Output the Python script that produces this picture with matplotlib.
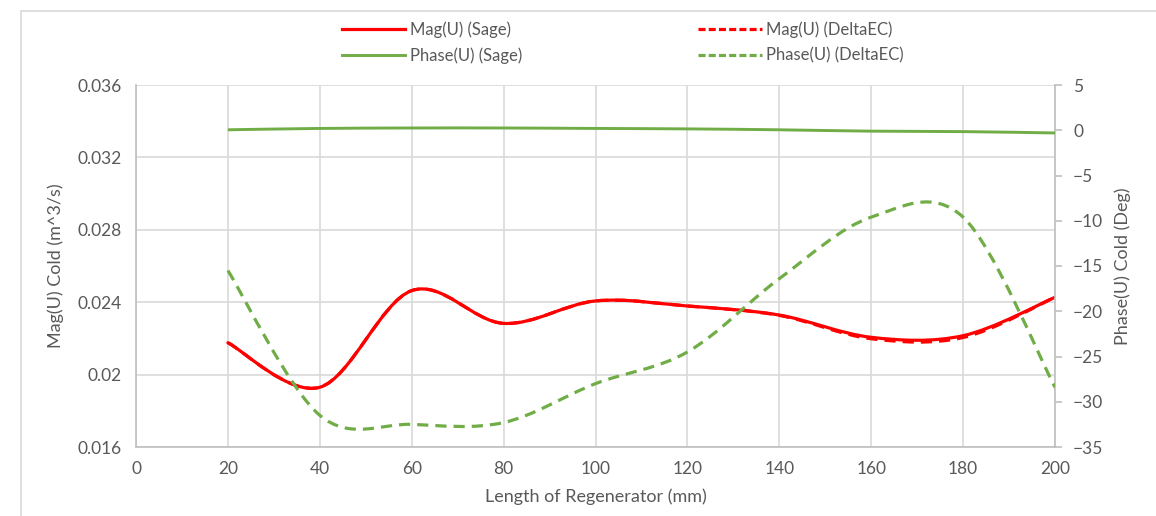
import numpy as np
import matplotlib
matplotlib.use("Agg")
import matplotlib.pyplot as plt
from matplotlib.path import Path
from matplotlib.patches import PathPatch, Rectangle
from matplotlib.lines import Line2D

plt.rcParams['font.family'] = ['Lato', 'DejaVu Sans']

# regenerator length (mm)
length_mm = [20, 40, 60, 80, 100, 120, 140, 160, 180, 200]
# volumetric velocity magnitude, cold end (m^3/s)
mag_sage = [0.02176, 0.01930, 0.02464, 0.02283, 0.02407, 0.02379, 0.02329, 0.02206, 0.02215, 0.02427]
mag_deltaec = [0.02176, 0.01930, 0.02464, 0.02283, 0.02407, 0.02379, 0.02327, 0.02198, 0.02205, 0.02427]
# phase, cold end (deg)
phase_sage = [0.05, 0.2, 0.25, 0.25, 0.2, 0.15, 0.05, -0.1, -0.15, -0.3]
phase_deltaec = [-15.5, -31.5, -32.5, -32.3, -28.0, -24.5, -16.4, -9.6, -9.6, -28.4]

RED = '#FF0000'
GREEN = '#70AD47'
GREY_TXT = '#595959'


def smooth_path(x, y):
    # Catmull-Rom style cubic Bezier through the points (spreadsheet "smoothed line")
    p = np.column_stack([x, y]).astype(float)
    pts = np.vstack([p[0], p, p[-1]])
    verts = [p[0]]
    codes = [Path.MOVETO]
    for i in range(1, len(pts) - 2):
        c1 = pts[i] + (pts[i + 1] - pts[i - 1]) / 6.0
        c2 = pts[i + 1] - (pts[i + 2] - pts[i]) / 6.0
        verts += [c1, c2, pts[i + 1]]
        codes += [Path.CURVE4] * 3
    return Path(verts, codes)


fig = plt.figure(figsize=(11.56, 5.16), dpi=100)
fig.patches.append(Rectangle((21 / 1156, -0.1), 1.2, 1 - 11 / 516 + 0.1, transform=fig.transFigure,
                             fill=False, edgecolor='#D9D9D9', lw=1.2))

ax = fig.add_axes([136 / 1156, 69 / 516, 919 / 1156, 362 / 516])
ax2 = ax.twinx()

ax.set_xlim(0, 200)
ax.set_ylim(0.016, 0.036)
ax2.set_ylim(-35, 5)
ax.set_xticks(np.arange(0, 201, 20))
ax.set_yticks(np.arange(0.016, 0.0361, 0.004))
ax.set_yticklabels(['0.016', '0.02', '0.024', '0.028', '0.032', '0.036'])
ax2.set_yticks(np.arange(-35, 6, 5))

ax.grid(True, color='#D9D9D9', lw=1.2)
ax.set_axisbelow(True)
for a in (ax, ax2):
    for s in a.spines.values():
        s.set_color('#BFBFBF')
        s.set_linewidth(1.2)
    a.spines['top'].set_visible(False)
ax.spines['right'].set_visible(False)
ax2.spines['left'].set_visible(False)
ax2.spines['bottom'].set_visible(False)

ax.tick_params(axis='both', length=0, labelsize=12.5, labelcolor=GREY_TXT, pad=10)
ax2.tick_params(axis='y', length=5, color='#BFBFBF', width=1.2, labelsize=12.5,
                labelcolor=GREY_TXT, pad=8)

ax.set_xlabel('Length of Regenerator (mm)', fontsize=13, color=GREY_TXT, labelpad=8)
ax.set_ylabel('Mag(U) Cold (m^3/s)', fontsize=13, color=GREY_TXT, labelpad=10)
ax2.set_ylabel('Phase(U) Cold (Deg)', fontsize=13, color=GREY_TXT, labelpad=8)

dash = (0, (3.5, 2.2))
ax.add_patch(PathPatch(smooth_path(length_mm, mag_sage), fill=False, ec=RED, lw=2.3,
                       capstyle='round', zorder=3))
ax.add_patch(PathPatch(smooth_path(length_mm, mag_deltaec), fill=False, ec=RED, lw=2.3,
                       ls=dash, zorder=3))
ax2.add_patch(PathPatch(smooth_path(length_mm, phase_sage), fill=False, ec=GREEN, lw=2.1,
                        zorder=3))
ax2.add_patch(PathPatch(smooth_path(length_mm, phase_deltaec), fill=False, ec=GREEN, lw=2.3,
                        ls=dash, zorder=3))

handles = [Line2D([], [], color=RED, lw=2.3), Line2D([], [], color=GREEN, lw=2.1),
           Line2D([], [], color=RED, lw=2.3, ls=(0, (2.2, 1))),
           Line2D([], [], color=GREEN, lw=2.3, ls=(0, (2.2, 1)))]
labels = ['Mag(U) (Sage)', 'Phase(U) (Sage)', 'Mag(U) (DeltaEC)', 'Phase(U) (DeltaEC)']
fig.legend(handles, labels, ncol=2, loc='upper left', bbox_to_anchor=(327 / 1156, 1 - 6 / 516),
           frameon=False, fontsize=12, labelcolor=GREY_TXT, handlelength=3.8,
           handletextpad=0.25, columnspacing=10.6, labelspacing=0.6)

fig.savefig('out.png', dpi=100)
